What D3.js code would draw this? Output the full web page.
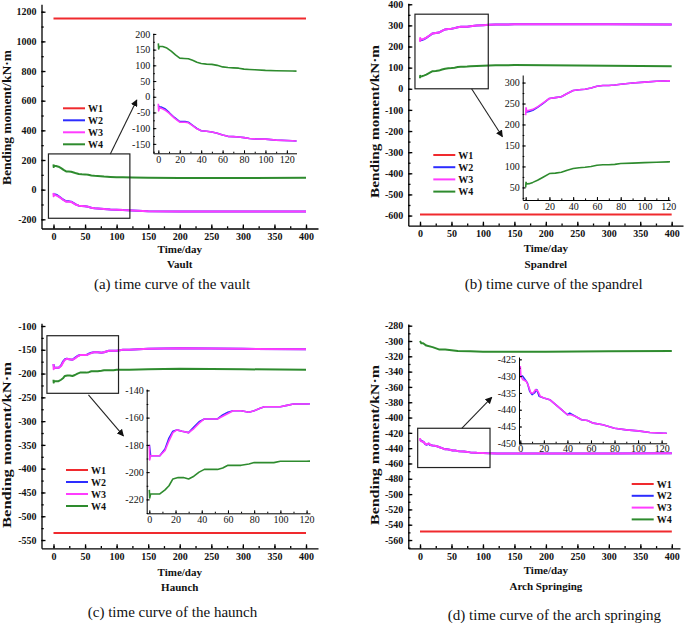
<!DOCTYPE html>
<html>
<head>
<meta charset="utf-8">
<script src="https://cdn.jsdelivr.net/npm/d3@7/dist/d3.min.js"></script>
<style>
body { margin: 0; background: #fff; }
svg { display: block; }
text { font-family: "Liberation Serif", "Times New Roman", serif; }
</style>
</head>
<body>
<svg id="chart" width="685" height="623"></svg>
<script>
"use strict";

// series names and colours
var seriesNames = ["W1", "W2", "W3", "W4"];
var seriesColors = ["#f02a2e", "#2d2dff", "#ff3cff", "#2e8b2e"];

// (a) vault  [day, bending moment]
var vaultW1 = [[0, 1155], [400, 1155]];
var vaultW2 = [[0, -28], [1, -33], [3, -33], [6, -38], [10, -50], [15, -66], [20, -79], [25, -79], [28, -81], [32, -91], [36, -101], [40, -108], [45, -110], [50, -112], [55, -116], [60, -122], [65, -126], [70, -127], [75, -128], [80, -130], [85, -133], [90, -134], [100, -135], [110, -138], [125, -140], [150, -145], [200, -147], [300, -147], [400, -147]];
var vaultW3 = [[0, -22], [0.3, -45], [1, -35], [3, -37], [6, -42], [10, -52], [15, -68], [20, -81], [25, -81], [28, -83], [32, -92], [36, -102], [40, -108], [45, -110], [50, -112], [55, -116], [60, -122], [65, -126], [70, -127], [75, -128], [80, -130], [85, -133], [90, -134], [100, -135], [110, -138], [125, -140], [150, -145], [200, -147], [300, -147], [400, -147]];
var vaultW4 = [[0, 170], [0.3, 152], [1, 160], [4, 160], [8, 155], [12, 145], [16, 133], [20, 123], [24, 122], [28, 121], [32, 116], [36, 110], [40, 106], [45, 104], [50, 103], [55, 100], [60, 95], [65, 93], [70, 92], [75, 91], [80, 88], [85, 87], [90, 86], [100, 84], [110, 83], [125, 82], [150, 80], [200, 79], [300, 79], [400, 80]];

// (b) spandrel
var spandrelW1 = [[0, -595], [400, -595]];
var spandrelW2 = [[0, 230], [1, 230], [3, 231], [6, 234], [10, 241], [15, 251], [20, 262], [25, 264], [30, 266], [35, 274], [40, 281], [45, 283], [50, 284], [55, 287], [60, 291], [65, 293], [70, 293], [75, 294], [80, 296], [90, 299], [100, 301], [110, 303], [120, 304], [150, 305], [200, 305], [300, 305], [400, 304]];
var spandrelW3 = [[0, 222], [0.3, 240], [1, 232], [3, 234], [6, 236], [10, 242], [15, 252], [20, 262], [25, 264], [30, 266], [35, 274], [40, 281], [45, 283], [50, 284], [55, 287], [60, 291], [65, 293], [70, 293], [75, 294], [80, 296], [90, 299], [100, 301], [110, 303], [120, 304], [150, 305], [200, 305], [300, 305], [400, 304]];
var spandrelW4 = [[0, 50], [0.3, 62], [1, 58], [3, 59], [6, 62], [10, 67], [15, 75], [20, 83], [25, 84], [30, 86], [35, 91], [40, 95], [45, 97], [50, 98], [55, 100], [60, 103], [65, 104], [70, 104], [75, 105], [80, 107], [90, 108], [100, 109], [110, 110], [120, 111], [150, 112], [200, 111], [300, 109], [400, 107]];

// (c) haunch
var haunchW1 = [[0, -535], [400, -535]];
var haunchW2 = [[0, -180], [1, -188], [4, -188], [8, -188], [12, -183], [15, -175], [18, -170], [21, -169], [25, -170], [30, -171], [34, -167], [38, -163], [42, -161], [47, -161], [52, -161], [56, -158], [60, -156], [64, -155], [70, -155], [76, -156], [80, -155], [85, -153], [88, -152], [100, -152], [105, -151], [110, -150], [120, -150], [150, -148], [200, -147], [300, -148], [400, -149]];
var haunchW3 = [[0, -180], [0.3, -191], [1, -188], [4, -188], [8, -188], [12, -184], [15, -177], [18, -171], [21, -169], [25, -170], [30, -171], [34, -168], [38, -164], [42, -161], [47, -161], [52, -161], [56, -159], [60, -157], [64, -155], [70, -155], [76, -156], [80, -155], [85, -153], [88, -152], [100, -152], [105, -151], [110, -150], [120, -150], [150, -148], [200, -147], [300, -148], [400, -149]];
var haunchW4 = [[0, -213], [0.3, -219], [1, -216], [4, -216], [8, -216], [12, -213], [15, -210], [18, -205], [22, -204], [26, -204], [30, -205], [34, -203], [38, -200], [42, -198], [47, -198], [52, -198], [56, -197], [60, -195], [64, -195], [70, -195], [76, -194], [80, -193], [88, -193], [95, -193], [100, -192], [105, -192], [120, -192], [150, -191], [200, -190], [300, -191], [400, -192]];

// (d) arch springing
var springW1 = [[0, -549], [400, -549]];
var springW2 = [[0, -430], [2, -430], [4, -431], [6, -432], [8, -434.5], [10, -435.5], [12, -435], [14, -434], [16, -436], [20, -436.5], [25, -437], [30, -438.5], [35, -440], [40, -441.5], [42, -441], [47, -442], [52, -443], [57, -443.2], [62, -444], [70, -444.5], [80, -445.5], [90, -446], [100, -446.3], [110, -446.8], [122, -447], [150, -447], [200, -447], [300, -447], [400, -446.8]];
var springW3 = [[0, -427], [0.5, -430], [2, -431], [5, -431.5], [7, -433], [9, -435], [11, -435], [13, -434], [15, -434.5], [17, -436], [20, -436.5], [25, -437], [30, -438.5], [35, -440], [40, -441.5], [43, -441.5], [47, -442], [52, -443], [57, -443.2], [62, -444], [70, -444.5], [80, -445.5], [90, -446], [100, -446.3], [110, -446.8], [122, -447], [150, -447], [200, -447], [300, -447], [400, -446.8]];
var springW4 = [[0, -300], [2, -303], [5, -303], [10, -306], [20, -308], [30, -311], [40, -311], [60, -313], [80, -313.5], [100, -314], [150, -314], [200, -314], [300, -313.5], [400, -313]];

// tick labels
var mainXTicks = [0, 50, 100, 150, 200, 250, 300, 350, 400];
var insetXTicks = [0, 20, 40, 60, 80, 100, 120];
var vaultYTicks = [-200, 0, 200, 400, 600, 800, 1000, 1200];
var vaultInsetYTicks = [-150, -100, -50, 0, 50, 100, 150, 200];
var spandrelYTicks = [-600, -500, -400, -300, -200, -100, 0, 100, 200, 300, 400];
var spandrelInsetYTicks = [50, 100, 150, 200, 250, 300];
var haunchYTicks = [-550, -500, -450, -400, -350, -300, -250, -200, -150, -100];
var haunchInsetYTicks = [-220, -200, -180, -160, -140];
var springYTicks = [-560, -540, -520, -500, -480, -460, -440, -420, -400, -380, -360, -340, -320, -300, -280];
var springInsetYTicks = [-450, -445, -440, -435, -430, -425];

var serif = "'Liberation Serif', 'Times New Roman', serif";
var svg = d3.select("#chart");
var defs = svg.append("defs");
defs.append("marker").attr("id", "arrowHead")
    .attr("viewBox", "0 0 10 10").attr("refX", 9).attr("refY", 5)
    .attr("markerWidth", 7).attr("markerHeight", 7).attr("orient", "auto")
    .attr("markerUnits", "userSpaceOnUse")
    .append("path").attr("d", "M0,0 L10,5 L0,10 z").attr("fill", "#111");

var panels = [
    {
        key: "a", series: [vaultW1, vaultW2, vaultW3, vaultW4], name: "Vault", caption: "(a) time curve of the vault",
        xDom: [-19, 419], xRng: [41.5, 318], yDom: [-262, 1250], yRng: [228.5, 4.3],
        yTicks: vaultYTicks, yMinorStep: 100,
        yLabel: { x: 6.6, y: 117.5, len: 135, size: 12 },
        titleY: 253, nameY: 267.5, captionX: 172, captionY: 288.5,
        legend: { x: 63, y: 108.3, dy: 12, len: 22 },
        box: { x: [-8, 121], y: [-193, 241] }, arrow: [[90, 241], [132, 605]],
        inset: { xDom: [-4.7, 129], xRng: [153.3, 296.5], yDom: [-180, 202], yRng: [153.3, 33.3],
                 yTicks: vaultInsetYTicks, yMinorStep: 25, xPad: 2.5 }
    },
    {
        key: "b", series: [spandrelW1, spandrelW2, spandrelW3, spandrelW4], name: "Spandrel", caption: "(b) time curve of the spandrel",
        xDom: [-18.6, 418], xRng: [408.3, 683], yDom: [-648, 405], yRng: [225.7, 3.2],
        yTicks: spandrelYTicks, yMinorStep: 50,
        yLabel: { x: 374.2, y: 121.5, len: 153, size: 13 },
        titleY: 252, nameY: 267.5, captionX: 553.7, captionY: 288.5,
        legend: { x: 433.3, y: 155, dy: 12.2, len: 22 },
        box: { x: [-8, 108.5], y: [0, 353] }, arrow: [[82, 0], [131, -227]],
        inset: { xDom: [-2.5, 121.5], xRng: [522.7, 670], yDom: [20, 318], yRng: [200, 75],
                 yTicks: spandrelInsetYTicks, yMinorStep: 25, xPad: 2.5 }
    },
    {
        key: "c", series: [haunchW1, haunchW2, haunchW3, haunchW4], name: "Haunch", caption: "(c) time curve of the haunch",
        xDom: [-19, 419], xRng: [41.5, 318], yDom: [-567.4, -94.3], yRng: [548.3, 323.3],
        yTicks: haunchYTicks, yMinorStep: 25,
        yLabel: { x: 7, y: 445, len: 166, size: 12.5 },
        titleY: 575.5, nameY: 591, captionX: 172.5, captionY: 617,
        legend: { x: 66, y: 470, dy: 12, len: 22 },
        box: { x: [-10.4, 103], y: [-241.5, -120.4] }, arrow: [[55.4, -245], [110.8, -331]],
        inset: { xDom: [-2, 122.6], xRng: [146.7, 310], yDom: [-230.2, -139], yRng: [513.3, 389],
                 yTicks: haunchInsetYTicks, yMinorStep: 10, xPad: 2.5 }
    },
    {
        key: "d", series: [springW1, springW2, springW3, springW4], name: "Arch Springing", caption: "(d) time curve of the arch springing",
        xDom: [-18.6, 413], xRng: [408.3, 680], yDom: [-570.8, -277.8], yRng: [548.3, 324],
        yTicks: springYTicks, yMinorStep: 10,
        yLabel: { x: 374.2, y: 445, len: 160, size: 13 },
        titleY: 574, nameY: 590, captionX: 554.5, captionY: 619.5,
        legend: { x: 631.7, y: 484, dy: 11.8, len: 22 },
        box: { x: [-3.7, 111.2], y: [-465.3, -414] }, arrow: [[66.3, -414], [114, -373.5]],
        inset: { xDom: [-1.1, 124.3], xRng: [519, 666.7], yDom: [-450, -424.3], yRng: [443.3, 357],
                 yTicks: springInsetYTicks, yMinorStep: 2.5, xPad: 1.5 }
    }
];

function minorTicks(dom, step) {
    var start = Math.ceil(dom[0] / step) * step;
    return d3.range(start, dom[1] + 1e-9, step);
}

function drawAxes(g, x, y, o) {
    var xAxisY = y.range()[0], yAxisX = x.range()[0];
    // minor ticks
    g.append("g").attr("transform", "translate(0," + xAxisY + ")")
        .call(d3.axisBottom(x).tickValues(minorTicks(x.domain(), o.xMinor)).tickSize(-o.minorLen).tickFormat(""))
        .call(function(s) { s.select(".domain").remove(); })
        .selectAll("line").attr("stroke-width", o.width);
    g.append("g").attr("transform", "translate(" + yAxisX + ",0)")
        .call(d3.axisLeft(y).tickValues(minorTicks(y.domain(), o.yMinor)).tickSize(-o.minorLen).tickFormat(""))
        .call(function(s) { s.select(".domain").remove(); })
        .selectAll("line").attr("stroke-width", o.width);
    // major ticks + labels
    var xa = g.append("g").attr("transform", "translate(0," + xAxisY + ")")
        .call(d3.axisBottom(x).tickValues(o.xTicks).tickSize(-o.majorLen).tickSizeOuter(0).tickPadding(o.xPad).tickFormat(d3.format("d")));
    var ya = g.append("g").attr("transform", "translate(" + yAxisX + ",0)")
        .call(d3.axisLeft(y).tickValues(o.yTicks).tickSize(-o.majorLen).tickSizeOuter(0).tickPadding(o.yPad).tickFormat(function(d) { return String(d); }));
    [xa, ya].forEach(function(a) {
        a.attr("font-family", serif).attr("font-size", o.fontSize);
        a.select(".domain").attr("stroke-width", o.width);
        a.selectAll(".tick line").attr("stroke-width", o.width);
        a.selectAll("text")
            .style("font-family", serif)
            .style("font-size", o.fontSize + "px")
            .style("font-weight", o.bold ? "bold" : "normal")
            .attr("fill", "#111");
    });
}

function drawLines(g, series, x, y, width) {
    var line = d3.line().x(function(d) { return x(d[0]); }).y(function(d) { return y(d[1]); });
    series.forEach(function(s, i) {
        g.append("path").datum(s)
            .attr("d", line)
            .attr("fill", "none")
            .attr("stroke", seriesColors[i])
            .attr("stroke-width", width)
            .attr("stroke-linejoin", "round");
    });
}

panels.forEach(function(p) {
    var g = svg.append("g").attr("class", "panel-" + p.key);
    var x = d3.scaleLinear().domain(p.xDom).range(p.xRng);
    var y = d3.scaleLinear().domain(p.yDom).range(p.yRng);

    drawAxes(g, x, y, { xTicks: mainXTicks, yTicks: p.yTicks, xMinor: 25, yMinor: p.yMinorStep,
        majorLen: 4, minorLen: 2.2, width: 1.3, fontSize: 10, bold: true, xPad: 4.5, yPad: 5 });

    // main curves
    var clipId = "clip-" + p.key;
    defs.append("clipPath").attr("id", clipId).append("rect")
        .attr("x", p.xRng[0]).attr("y", p.yRng[1])
        .attr("width", p.xRng[1] - p.xRng[0]).attr("height", p.yRng[0] - p.yRng[1]);
    drawLines(g.append("g").attr("clip-path", "url(#" + clipId + ")"), p.series, x, y, 2);

    // zoom box and arrow
    g.append("rect")
        .attr("x", x(p.box.x[0])).attr("y", y(p.box.y[1]))
        .attr("width", x(p.box.x[1]) - x(p.box.x[0]))
        .attr("height", y(p.box.y[0]) - y(p.box.y[1]))
        .attr("fill", "none").attr("stroke", "#222").attr("stroke-width", 1.2);
    g.append("line")
        .attr("x1", x(p.arrow[0][0])).attr("y1", y(p.arrow[0][1]))
        .attr("x2", x(p.arrow[1][0])).attr("y2", y(p.arrow[1][1]))
        .attr("stroke", "#222").attr("stroke-width", 1.1)
        .attr("marker-end", "url(#arrowHead)");

    // inset
    var ins = p.inset;
    var ix = d3.scaleLinear().domain(ins.xDom).range(ins.xRng);
    var iy = d3.scaleLinear().domain(ins.yDom).range(ins.yRng);
    var ig = g.append("g").attr("class", "inset");
    var iclip = "iclip-" + p.key;
    defs.append("clipPath").attr("id", iclip).append("rect")
        .attr("x", ins.xRng[0]).attr("y", ins.yRng[1] - 4)
        .attr("width", ins.xRng[1] - ins.xRng[0]).attr("height", ins.yRng[0] - ins.yRng[1] + 4);
    drawLines(ig.append("g").attr("clip-path", "url(#" + iclip + ")"), p.series, ix, iy, 1.6);
    drawAxes(ig, ix, iy, { xTicks: insetXTicks, yTicks: ins.yTicks, xMinor: 10, yMinor: ins.yMinorStep,
        majorLen: 3, minorLen: 1.6, width: 1, fontSize: 10, bold: false, xPad: ins.xPad, yPad: 3 });

    // legend
    var lg = g.append("g").attr("class", "legend");
    seriesNames.forEach(function(n, i) {
        var ly = p.legend.y + i * p.legend.dy;
        lg.append("line")
            .attr("x1", p.legend.x).attr("x2", p.legend.x + p.legend.len)
            .attr("y1", ly).attr("y2", ly)
            .attr("stroke", seriesColors[i]).attr("stroke-width", 2);
        lg.append("text")
            .attr("x", p.legend.x + p.legend.len + 3).attr("y", ly)
            .attr("dy", "0.35em")
            .style("font-size", "10px").style("font-weight", "bold")
            .attr("fill", "#111")
            .text(n);
    });

    // texts
    g.append("text")
        .attr("transform", "translate(" + p.yLabel.x + "," + p.yLabel.y + ") rotate(-90)")
        .attr("text-anchor", "middle").attr("dy", "0.35em")
        .attr("textLength", p.yLabel.len).attr("lengthAdjust", "spacingAndGlyphs")
        .style("font-size", p.yLabel.size + "px").style("font-weight", "bold")
        .attr("fill", "#111")
        .text("Bending moment/kN\u00b7m");
    g.append("text")
        .attr("x", x(200)).attr("y", p.titleY)
        .attr("text-anchor", "middle")
        .style("font-size", "11px").style("font-weight", "bold")
        .attr("fill", "#111")
        .text("Time/day");
    g.append("text")
        .attr("x", x(200)).attr("y", p.nameY)
        .attr("text-anchor", "middle")
        .style("font-size", "11px").style("font-weight", "bold")
        .attr("fill", "#111")
        .text(p.name);
    g.append("text")
        .attr("x", p.captionX).attr("y", p.captionY)
        .attr("text-anchor", "middle")
        .style("font-size", "15px")
        .attr("fill", "#111")
        .text(p.caption);
});
</script>
</body>
</html>
